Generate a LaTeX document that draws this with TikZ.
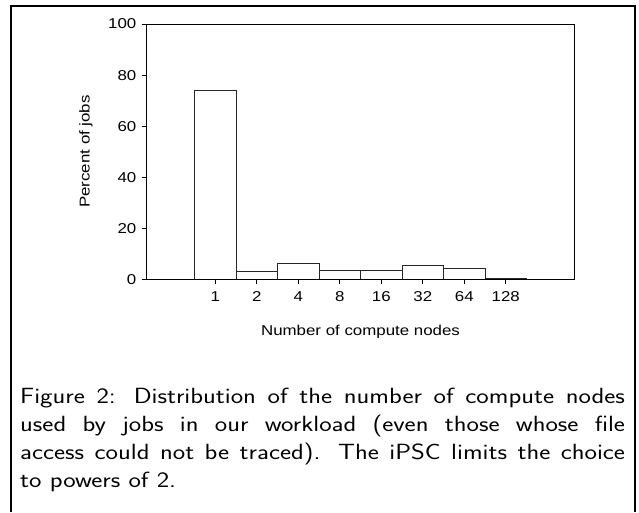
\documentclass[tikz,border=0pt]{standalone}
\usepackage{fontspec}
\setmainfont{Liberation Sans}
\newfontfamily\plotfont{Liberation Sans}
\newcommand{\hx}[1]{\scalebox{1.18}[1]{#1}}
\begin{document}
\begin{tikzpicture}[x=1pt,y=-1pt,
  frame/.style={line width=2pt},
  axisline/.style={line width=0.9pt},
  barbox/.style={draw=black!85,line width=0.9pt,fill=white},
  ticklab/.style={font=\plotfont\fontsize{14.3}{16}\selectfont,inner sep=0pt},
  caption/.style={inner sep=0pt,anchor=north west}]
\useasboundingbox (0,0) rectangle (639,512);
% outer frame (open at the bottom)
\draw[frame] (11,512) -- (11,6) -- (635,6) -- (635,512);
% bars
\def\yz{279.5}
\def\ys{2.555}
\foreach \xa/\h [count=\i] in {194.5/74, 236/3, 277.5/6.2, 319/3.7, 360.5/3.4, 402/5.5, 443.5/4.4, 485/0.3}{
  \draw[barbox] (\xa,\yz) rectangle ({\xa+41.5},{\yz-\h*\ys});
}
% axis box
\draw[axisline] (146,24) rectangle (574.5,279.5);
% y ticks and labels
\foreach \v in {0,20,40,60,80,100}{
  \draw[axisline] (141.5,{\yz-\v*\ys}) -- (146,{\yz-\v*\ys});
  \node[ticklab,anchor=east] (yl\v) at (136.5,{\yz-\v*\ys}) {\hx{\v}};
}
% x ticks and labels
\foreach \lab [count=\i] in {1,2,4,8,16,32,64,128}{
  \draw[axisline] ({215.25+41.5*(\i-1)},\yz) -- ({215.25+41.5*(\i-1)},284);
  \node[ticklab] (xl\i) at ({215.25+41.5*(\i-1)},296.5) {\hx{\lab}};
}
% axis titles
\node[ticklab] (xtitle) at (360.5,331.5) {\hx{Number of compute nodes}};
\node[ticklab,rotate=90] (ytitle) at (86,151.5) {\hx{Percent of jobs}};
% caption
\node[caption] (cap) at (20,388) {\scalebox{1.2}[1]{\parbox{504pt}{\sffamily\fontsize{22}{28}\selectfont
Figure 2: Distribution of the number of compute nodes\linebreak
used by jobs in our workload (even those whose file\linebreak
access could not be traced). The iPSC limits the choice\linebreak
to powers of 2.}}};
\end{tikzpicture}
\end{document}
